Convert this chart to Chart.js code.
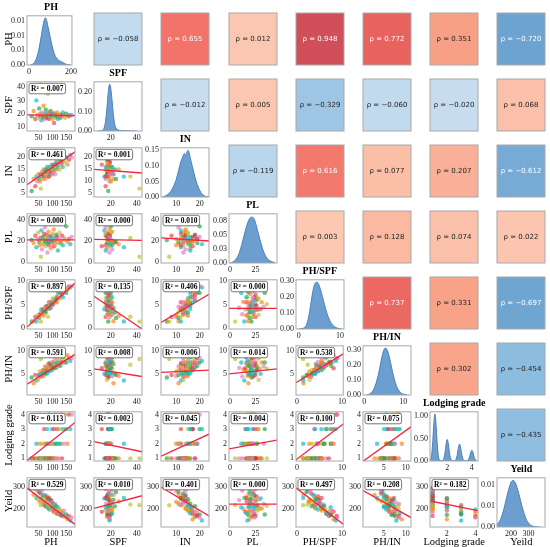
<!DOCTYPE html>
<html>
<head>
<meta charset="utf-8">
<script src="https://cdn.jsdelivr.net/npm/chart.js@4.4.0/dist/chart.umd.min.js"></script>
<style>
body { margin: 0; background: #fff; }
#wrap { position: relative; width: 550px; height: 547px; overflow: hidden; }
#wrap canvas { position: absolute; }
.lbl { position: absolute; font-family: 'Liberation Serif', 'Times New Roman', serif; color: #000; white-space: nowrap; transform: translate(-50%, -50%); }
</style>
</head>
<body>
<div id="wrap"></div>
<script>
// Variables of the pair plot
const variables = ['PH', 'SPF', 'IN', 'PL', 'PH/SPF', 'PH/IN', 'Lodging grade', 'Yeild'];

// Observations (estimated from the scatter clouds)
const PH = [25,32,38,42,45,48,52,55,57,60, 62,64,66,68,70,72,73,75,76,78, 80,81,82,84,85,86,88,89,90,92,
            93,95,96,98,100,101,103,105,106,108, 110,112,114,116,118,120,123,126,129,132, 135,138,142,146,150,155,160,165,170,58];
const SPF = [18,22,16,30,19,17,24,20,18,15, 21,19,17,26,18,20,16,19,23,18, 17,20,19,35,18,21,16,19,20,18,
             22,17,19,18,21,16,20,19,13,18, 20,17,19,21,18,16,19,20,17,18, 19,21,18,17,20,19,18,19,19,42];
const IN = [6,11,8,12,10,13,11,10,13,12, 14,11,13,15,12,14,11,13,15,12, 14,16,13,12,15,14,12,16,14,15,
            13,16,14,17,13,15,16,14,17,15, 13,16,18,15,17,16,18,15,19,17, 18,16,19,18,20,17,19,21,20,7];
const PL = [21,18,25,14,22,28,19,16,23,30, 12,20,24,17,27,21,33,15,19,22, 26,18,9,23,20,29,16,24,21,36,
            19,13,25,22,18,27,20,31,15,23, 21,17,26,19,24,11,22,28,18,20, 25,16,23,21,34,19,22,17,24,5];
const PH_SPF = [1.39,1.45,2.38,1.40,2.37,2.82,2.17,2.75,3.17,4.00, 2.95,3.37,3.88,2.62,3.89,3.60,4.56,3.95,3.30,4.33,
                4.71,4.05,4.32,2.40,4.72,4.10,5.50,4.68,4.50,5.11, 4.23,5.59,5.05,5.44,4.76,6.31,5.15,5.53,8.15,6.00,
                5.50,6.59,6.00,5.52,6.56,7.50,6.47,6.30,7.59,7.33, 7.11,6.57,7.89,8.59,7.50,8.16,8.89,8.68,8.95,1.38];
const PH_IN = [4.17,2.91,4.75,3.50,4.50,3.69,4.73,5.50,4.38,5.00, 4.43,5.82,5.08,4.53,5.83,5.14,6.64,5.77,5.07,6.50,
               5.71,5.06,6.31,7.00,5.67,6.14,7.33,5.56,6.43,6.13, 7.15,5.94,6.86,5.76,7.69,6.73,6.44,7.50,6.24,7.20,
               8.46,7.00,6.33,7.73,6.94,7.50,6.83,8.40,6.79,7.76, 7.50,8.63,7.47,8.11,7.50,9.12,8.42,7.86,8.50,8.29];
const LG = [1,1,1,2,1,1,1,2,1,1, 1,2,1,1,3,1,2,1,1,2, 1,3,1,1,2,1,1,4,2,1,
            1,2,1,3,1,2,1,1,3,2, 1,4,2,1,3,2,1,3,2,4, 1,3,2,4,3,2,4,3,4,1];
const Yield = [295,262,290,248,280,240,275,230,268,245, 282,225,258,232,215,262,220,250,210,245,
               255,205,238,218,242,200,248,195,228,212, 240,198,235,205,228,190,222,200,185,215,
               220,180,210,190,175,205,182,198,170,188, 165,178,190,160,172,150,165,145,158,215];
const columns = [PH, SPF, IN, PL, PH_SPF, PH_IN, LG, Yield];

// Density curves on the diagonal
const PH_kde_x = [5,15,25,35,45,55,65,72,78,84,90,100,110,120,130,140,150,160,170,180,190,198];
const PH_kde_y = [0,0.0002,0.0008,0.0022,0.0048,0.0085,0.0128,0.0152,0.0161,0.0152,0.0132,0.0098,0.0066,0.0040,0.0025,0.0017,0.0013,0.0009,0.0005,0.0002,0.0001,0];
const SPF_kde_x = [10,12,14,15,16,17,18,19,20,21,22,23,24,26,28,31,35,40];
const SPF_kde_y = [0,0.001,0.006,0.02,0.055,0.12,0.2,0.24,0.215,0.15,0.08,0.035,0.015,0.005,0.002,0.001,0.0005,0];
const IN_kde_x = [4,5,6,7,8,9,10,11,12,13,13.5,14,14.5,15,15.5,16,17,18,19,20,21,22,23,24];
const IN_kde_y = [0,0.002,0.006,0.012,0.022,0.036,0.056,0.085,0.113,0.133,0.14,0.132,0.143,0.15,0.142,0.125,0.095,0.064,0.04,0.022,0.01,0.004,0.001,0];
const PL_kde_x = [0,3,6,9,12,15,18,20,22,24,27,30,33,36,40,44];
const PL_kde_y = [0,0.002,0.007,0.018,0.036,0.058,0.075,0.081,0.082,0.077,0.058,0.037,0.02,0.009,0.003,0.0005];
const PHSPF_kde_x = [0,1,2,2.5,3,3.5,4,4.5,5,5.5,6,7,8,9,10,10.5];
const PHSPF_kde_y = [0,0.004,0.035,0.09,0.17,0.245,0.285,0.29,0.265,0.225,0.175,0.085,0.032,0.009,0.002,0];
const PHIN_kde_x = [0.5,1.5,2.5,3.5,4,4.5,5,5.5,6,6.5,7,8,9,10,11];
const PHIN_kde_y = [0,0.008,0.04,0.12,0.18,0.245,0.295,0.31,0.29,0.245,0.185,0.08,0.025,0.006,0.001];
const LG_kde_x = [0.6,0.7,0.8,0.9,1.0,1.1,1.2,1.3,1.4,1.5,1.6,1.7,1.8,1.9,2.0,2.1,2.2,2.3,2.4,2.5,2.6,2.7,2.8,2.9,3.0,3.1,3.2,3.3,3.4,3.5,3.6,3.7,3.8,3.9,4.0,4.1,4.2,4.3,4.4];
const LG_kde_y = [0.01,0.07,0.33,0.78,1.05,0.78,0.33,0.08,0.02,0.01,0.01,0.04,0.15,0.36,0.48,0.36,0.15,0.04,0.01,0.005,0.01,0.03,0.12,0.28,0.38,0.28,0.12,0.03,0.01,0.005,0.005,0.02,0.08,0.18,0.24,0.18,0.08,0.02,0];
const Yield_kde_x = [120,140,160,180,200,212,225,245,265,285,305,325,345,365];
const Yield_kde_y = [0.0006,0.0018,0.0044,0.0079,0.0107,0.0112,0.0106,0.0080,0.0047,0.0021,0.0007,0.0002,0.00004,0];
const kdeX = [PH_kde_x, SPF_kde_x, IN_kde_x, PL_kde_x, PHSPF_kde_x, PHIN_kde_x, LG_kde_x, Yield_kde_x];
const kdeY = [PH_kde_y, SPF_kde_y, IN_kde_y, PL_kde_y, PHSPF_kde_y, PHIN_kde_y, LG_kde_y, Yield_kde_y];

// Axis limits and tick labels
const scatterRange = [[8,182],[7,44],[3.5,24],[-1,46],[-0.2,10.3],[0.3,11.2],[0.82,4.18],[115,340]];
const yTicks = [[50,100,150],[10,20,30,40],[5,10,15,20],[0,20,40],[0,5,10],[5,10],[1,2,3,4],[200,300]];
const xTicks = [[50,100,150],[20,40],[10,20],[0,25],[0,10],[5,10],[2,4],[200,300]];
const kdeRange = [[-10,205],[7,44],[3.5,24],[-1,46],[-0.7,11],[-0.3,12],[0.6,4.5],[120,395]];
const kdeMax = [0.0168,0.252,0.158,0.088,0.305,0.325,1.1,0.0118];
const kdeXTicks = [[0,200],[20,40],[10,20],[0,25],[0,10],[0,10],[2,4],[200,300]];
const kdeYTicks = [[0,0.005,0.01,0.015],[0,0.1,0.2],[0,0.05,0.1,0.15],[0,0.025,0.05,0.075],[0,0.1,0.2,0.3],[0,0.1,0.2,0.3],[0,0.5,1],[0,0.005,0.01]];
const kdeYLabels = [['0.00','0.01','0.01','0.01'],['0.00','0.10','0.20'],['0.00','0.05','0.10','0.15'],['0.00','0.03','0.05','0.08'],
                    ['0.00','0.10','0.20','0.30'],['0.00','0.10','0.20','0.30'],['0.00','0.50','1.00'],['0.00','0.01','0.01']];

// Lower triangle: R² and fitted lines [x0, y0, x1, y1], row by row
const r2Values = [
  [0.007],
  [0.461, 0.001],
  [0.000, 0.000, 0.010],
  [0.897, 0.135, 0.406, 0.000],
  [0.591, 0.008, 0.006, 0.014, 0.538],
  [0.113, 0.002, 0.045, 0.004, 0.100, 0.075],
  [0.529, 0.010, 0.401, 0.000, 0.497, 0.208, 0.182]
];
const regLines = [
  [[8,19.2,182,18.6]],
  [[8,8.6,182,22.3],[7,15,44,13.5]],
  [[8,21,182,21],[7,21.5,44,20.6],[3.5,23,24,20]],
  [[8,0.2,182,9.6],[7,6.8,44,-0.2],[3.5,1.2,24,7.2],[-1,4.2,46,4.2]],
  [[8,2.7,182,9.3],[7,6.1,44,4.4],[3.5,5.3,24,5.8],[-1,5,46,6.1],[-0.2,3,10.3,9.4]],
  [[8,0.85,182,3.45],[7,2.15,44,1.45],[3.5,1.15,24,2.65],[-1,1.65,46,2.25],[-0.2,0.9,10.3,3.35],[0.3,0.8,11.2,3.15]],
  [[8,293,182,127],[7,200,44,258],[3.5,298,24,165],[-1,220,46,220],[-0.2,294,10.3,128],[0.3,282,11.2,158],[0.82,234,4.18,190]]
];

// Upper triangle: Pearson correlation, row by row
const rhoValues = [
  [-0.058, 0.655, 0.012, 0.948, 0.772, 0.351, -0.720],
  [-0.012, 0.005, -0.329, -0.060, -0.020, 0.068],
  [-0.119, 0.616, 0.077, 0.207, -0.612],
  [0.003, 0.128, 0.074, 0.022],
  [0.737, 0.331, -0.697],
  [0.302, -0.454],
  [-0.435]
];

const pointColors = ['rgba(44,170,70,0.7)','rgba(255,127,14,0.65)','rgba(230,40,70,0.6)','rgba(23,190,207,0.7)','rgba(227,119,194,0.65)','rgba(188,189,34,0.65)'];
const serif = "'Liberation Serif', 'Times New Roman', serif";
const wrap = document.getElementById('wrap');
const BW = 48, BH = 52;
const colLeft = i => 27 + i * 67.2;
const rowTop = j => 13 + j * 66;

function addCanvas(x, y, w, h) {
  const c = document.createElement('canvas');
  c.width = w; c.height = h;
  c.style.left = x + 'px'; c.style.top = y + 'px';
  c.style.width = w + 'px'; c.style.height = h + 'px';
  wrap.appendChild(c);
  return c;
}

function addLabel(text, x, y, size, bold, rotate) {
  const d = document.createElement('div');
  d.className = 'lbl';
  d.textContent = text;
  d.style.left = x + 'px'; d.style.top = y + 'px';
  d.style.fontSize = size + 'px';
  if (bold) d.style.fontWeight = 'bold';
  if (rotate) d.style.transform = 'translate(-50%, -50%) rotate(-90deg)';
  wrap.appendChild(d);
}

// Box round every panel
const framePlugin = {
  id: 'frame',
  afterDraw(chart) {
    const a = chart.chartArea, ctx = chart.ctx;
    ctx.save();
    ctx.strokeStyle = '#a8a8a8';
    ctx.lineWidth = 1;
    ctx.strokeRect(a.left, a.top, a.right - a.left, a.bottom - a.top);
    ctx.restore();
  }
};

// R² label in the corner of a scatter panel
const r2Plugin = {
  id: 'r2',
  afterDatasetsDraw(chart, args, opts) {
    const a = chart.chartArea, ctx = chart.ctx;
    const txt = 'R\u00B2 = ' + opts.value.toFixed(3);
    ctx.save();
    ctx.font = 'bold 7.5px ' + serif;
    const w = ctx.measureText(txt).width + 4, h = 10.5;
    const x = a.left + 2, y = a.top + 1.5;
    ctx.beginPath();
    ctx.roundRect(x, y, w, h, 2);
    ctx.fillStyle = '#fff';
    ctx.fill();
    ctx.strokeStyle = '#555';
    ctx.lineWidth = 0.8;
    ctx.stroke();
    ctx.fillStyle = '#000';
    ctx.textBaseline = 'middle';
    ctx.fillText(txt, x + 2, y + h / 2 + 0.5);
    ctx.restore();
  }
};

function mix(stops, v) {
  for (let i = 1; i < stops.length; i++) {
    if (v <= stops[i][0] || i === stops.length - 1) {
      const [v0, c0] = stops[i - 1], [v1, c1] = stops[i];
      const t = Math.max(0, Math.min(1, (v - v0) / (v1 - v0)));
      return 'rgb(' + c0.map((c, k) => Math.round(c + (c1[k] - c) * t)).join(',') + ')';
    }
  }
}
function rhoColor(r) {
  if (r >= 0) return mix([[0,[252,200,178]],[0.35,[248,160,134]],[0.65,[242,116,106]],[0.78,[231,98,95]],[0.95,[208,79,90]]], r);
  return mix([[0,[202,223,240]],[0.33,[158,198,228]],[0.45,[141,189,223]],[0.62,[118,170,213]],[0.72,[108,163,208]]], -r);
}

// Coloured correlation cell
const rhoPlugin = {
  id: 'rho',
  beforeDraw(chart, args, opts) {
    const a = chart.chartArea, ctx = chart.ctx;
    const r = opts.value;
    ctx.save();
    ctx.fillStyle = rhoColor(r);
    ctx.fillRect(a.left, a.top, a.right - a.left, a.bottom - a.top);
    ctx.fillStyle = Math.abs(r) > 0.55 ? '#ffffff' : '#222222';
    ctx.font = "7px 'DejaVu Sans', sans-serif";
    ctx.textAlign = 'center';
    ctx.textBaseline = 'middle';
    const s = (r < 0 ? '\u2212' : '') + Math.abs(r).toFixed(3);
    ctx.fillText('\u03C1 = ' + s, (a.left + a.right) / 2, (a.top + a.bottom) / 2);
    ctx.restore();
  }
};

function axis(range, ticks, labels, isY) {
  return {
    type: 'linear', min: range[0], max: range[1],
    grid: { display: false, drawTicks: false },
    border: { display: false },
    ticks: {
      font: { family: serif, size: 8 }, color: '#222', padding: 2,
      autoSkip: false, maxRotation: 0,
      callback: (v, i) => labels ? labels[i] : String(v)
    },
    afterBuildTicks: ax => { ax.ticks = ticks.map(v => ({ value: v })); },
    afterFit: ax => { if (isY) ax.width = 20; else ax.height = 10; }
  };
}

const baseOptions = {
  responsive: false, animation: false, events: [],
  layout: { padding: { top: 4, right: 4, left: 0, bottom: 0 } }
};

for (let r = 0; r < 8; r++) {
  for (let c = 0; c < 8; c++) {
    const bx = colLeft(c), by = rowTop(r);
    if (r === c) {
      const cv = addCanvas(bx - 20, by - 4, BW + 24, BH + 14);
      const pts = kdeX[r].map((x, i) => ({ x: x, y: kdeY[r][i] }));
      new Chart(cv, {
        type: 'line',
        data: { datasets: [{ data: pts, fill: 'origin', backgroundColor: 'rgba(76,138,196,0.82)', borderColor: '#4a80b8',
                             borderWidth: 1, pointRadius: 0, cubicInterpolationMode: 'monotone' }] },
        options: Object.assign({}, baseOptions, {
          plugins: { legend: { display: false }, tooltip: { enabled: false } },
          scales: {
            x: axis(kdeRange[r], kdeXTicks[r], null, false),
            y: axis([0, kdeMax[r]], kdeYTicks[r], kdeYLabels[r], true)
          }
        }),
        plugins: [framePlugin]
      });
    } else if (r > c) {
      const cv = addCanvas(bx - 20, by - 4, BW + 24, BH + 14);
      const xs = columns[c], ys = columns[r];
      const pts = xs.map((x, i) => ({ x: x, y: ys[i] }));
      const ln = regLines[r - 1][c];
      new Chart(cv, {
        type: 'scatter',
        data: { datasets: [
          { data: pts, pointRadius: 2.2, pointBorderWidth: 0,
            pointBackgroundColor: ctx => pointColors[ctx.dataIndex % pointColors.length], order: 2 },
          { type: 'line', data: [{ x: ln[0], y: ln[1] }, { x: ln[2], y: ln[3] }], borderColor: '#f4243f',
            borderWidth: 1.3, pointRadius: 0, order: 1 }
        ] },
        options: Object.assign({}, baseOptions, {
          plugins: { legend: { display: false }, tooltip: { enabled: false }, r2: { value: r2Values[r - 1][c] } },
          scales: {
            x: axis(scatterRange[c], xTicks[c], null, false),
            y: axis(scatterRange[r], yTicks[r], null, true)
          }
        }),
        plugins: [r2Plugin, framePlugin]
      });
    } else {
      const cv = addCanvas(bx - 1, by - 1, BW + 2, BH + 2);
      new Chart(cv, {
        type: 'scatter',
        data: { datasets: [] },
        options: {
          responsive: false, animation: false, events: [],
          layout: { padding: 1 },
          plugins: { legend: { display: false }, tooltip: { enabled: false }, rho: { value: rhoValues[r][c - r - 1] } },
          scales: { x: { display: false }, y: { display: false } }
        },
        plugins: [rhoPlugin, framePlugin]
      });
    }
  }
}

// Row labels, column labels and diagonal titles
variables.forEach((name, i) => {
  addLabel(name, 8, rowTop(i) + BH / 2, 10.5, false, true);
  addLabel(name, colLeft(i) + BW / 2, 541, 10.5, false, false);
  addLabel(name, colLeft(i) + BW / 2, rowTop(i) - 7, 10, true, false);
});
</script>
</body>
</html>
